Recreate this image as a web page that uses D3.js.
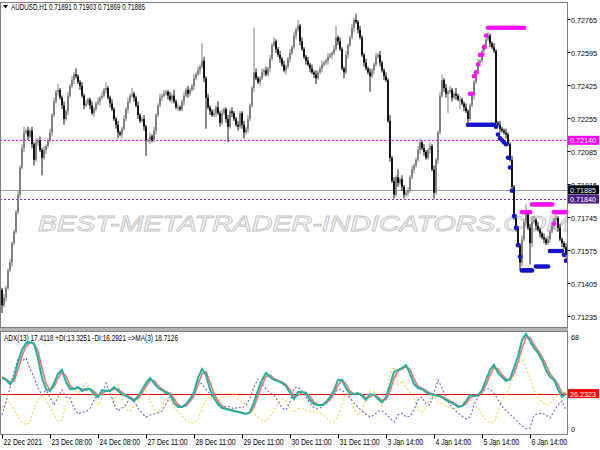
<!DOCTYPE html>
<html><head><meta charset="utf-8">
<script src="https://cdn.jsdelivr.net/npm/d3@7"></script>
<style>
body{margin:0;background:#fff}
svg{display:block}
text{font-family:"Liberation Sans",Arial,sans-serif}
</style>
</head><body><svg id="c" width="600" height="450"></svg>
<script>
// ---------------- DATA ----------------
const symbolText = "AUDUSD,H1  0.71891 0.71903 0.71869 0.71885";
const adxHeader = "ADX(13) 17.4118 +DI:13.3251 -DI:16.2921  =>MA(3) 18.7126";
const firstOpen = 0.7137;
const closes = [
0.7129,0.7133,0.7138,0.7147,0.7151,0.7161,0.7167,0.7177,0.7186,0.7200,
0.7210,0.7218,0.7219,0.7216,0.7219,0.7212,0.7204,0.7213,0.7214,0.7209,
0.7205,0.7209,0.7211,0.7214,0.7218,0.7227,0.7234,0.7239,0.7240,0.7236,
0.7232,0.7225,0.7229,0.7237,0.7242,0.7245,0.7248,0.7247,0.7244,0.7242,
0.7237,0.7232,0.7233,0.7235,0.7232,0.7228,0.7230,0.7233,0.7234,0.7236,
0.7237,0.7240,0.7241,0.7236,0.7233,0.7230,0.7225,0.7222,0.7218,0.7217,
0.7220,0.7225,0.7230,0.7234,0.7237,0.7238,0.7236,0.7232,0.7227,0.7224,
0.7225,0.7221,0.7214,0.7214,0.7216,0.7214,0.7219,0.7227,0.7232,0.7236,
0.7237,0.7238,0.7239,0.7237,0.7235,0.7237,0.7234,0.7231,0.7231,0.7230,
0.7234,0.7237,0.7240,0.7238,0.7240,0.7242,0.7246,0.7248,0.7250,0.7252,
0.7255,0.7246,0.7236,0.7231,0.7229,0.7227,0.7228,0.7231,0.7228,0.7223,
0.7228,0.7230,0.7225,0.7221,0.7229,0.7228,0.7225,0.7222,0.7221,0.7228,
0.7222,0.7218,0.7220,0.7225,0.7232,0.7241,0.7249,0.7246,0.7244,0.7246,
0.7249,0.7250,0.7248,0.7251,0.7256,0.7263,0.7265,0.7261,0.7258,0.7256,
0.7253,0.7250,0.7252,0.7256,0.7259,0.7262,0.7268,0.7271,0.7273,0.7265,
0.7261,0.7257,0.7255,0.7253,0.7251,0.7249,0.7248,0.7246,0.7249,0.7251,
0.7253,0.7254,0.7255,0.7257,0.7258,0.7259,0.7261,0.7267,0.7265,0.7261,
0.7251,0.7249,0.7258,0.7263,0.7267,0.7272,0.7276,0.7275,0.7271,0.7267,
0.7258,0.7254,0.7251,0.7249,0.7247,0.7250,0.7253,0.7257,0.7258,0.7254,
0.7250,0.7247,0.7245,0.7224,0.7205,0.7193,0.7186,0.7195,0.7192,0.7194,
0.7190,0.7186,0.7187,0.7188,0.7195,0.7199,0.7201,0.7204,0.7209,0.7213,
0.7210,0.7208,0.7205,0.7209,0.7211,0.7199,0.7187,0.7204,0.7218,0.7237,
0.7245,0.7241,0.7238,0.7239,0.7240,0.7236,0.7238,0.7237,0.7235,0.7235,
0.7233,0.7231,0.7229,0.7225,0.7232,0.7237,0.7244,0.7249,0.7254,0.7255,
0.7260,0.7262,0.7266,0.7268,0.7264,0.7262,0.7260,0.7223,0.7222,0.7220,
0.7219,0.7218,0.7217,0.7212,0.7204,0.7190,0.7174,0.7169,0.7160,0.7151,
0.7163,0.7172,0.7176,0.7169,0.7161,0.7172,0.7173,0.7170,0.7168,0.7166,
0.7164,0.7163,0.7161,0.7163,0.7167,0.7170,0.7173,0.7174,0.7169,0.7163,
0.7161,0.7159,0.7155];
// wick lengths above body top / below body bottom, in pips (0.0001)
const upperWickPips = [
1,2,1,1,2,1,1,1,2,1,2,3,1,2,1,2,1,2,1,2,
1,2,1,1,2,1,2,1,3,1,1,2,1,2,1,2,1,3,1,1,
2,1,2,1,1,2,1,1,2,1,2,1,3,1,1,2,1,1,2,1,
1,2,1,2,1,3,1,1,2,1,1,2,1,1,2,1,2,1,1,2,
1,2,1,1,2,1,3,1,2,1,1,2,1,2,1,1,2,1,2,1,
9,2,1,2,1,1,2,1,3,1,2,1,1,2,1,2,1,1,2,1,
1,2,1,2,1,1,23,2,1,1,2,1,2,1,2,1,2,1,1,2,
1,2,1,1,2,1,2,1,3,1,2,1,1,2,1,2,1,2,1,1,
2,1,1,2,1,1,2,6,1,2,1,1,2,1,1,2,1,3,1,2,
1,1,2,1,2,1,1,2,1,2,1,1,2,1,3,1,2,1,4,1,
2,1,1,2,1,2,1,1,2,2,1,2,1,1,2,1,2,1,1,2,
3,1,2,1,2,1,1,3,1,2,1,1,2,1,1,2,1,1,2,1,
1,2,1,2,1,1,2,1,1,2,1,1,2,1,1,2,1,2,1,1,
2,1,5,1,2,3,2,1,2,1,1,2,1,2,1,2,1,3,1,2,
1,1,2];
const lowerWickPips = [
4,1,2,1,1,2,1,1,1,2,1,2,1,2,1,2,3,1,2,1,
9,1,2,1,1,2,1,1,2,1,2,3,1,2,1,1,2,1,1,2,
1,2,1,1,2,1,2,1,1,2,1,1,2,1,2,1,1,2,3,1,
2,1,1,2,1,1,2,1,2,1,1,2,8,1,2,1,1,2,1,1,
2,1,1,2,1,2,1,1,2,1,1,2,1,2,1,1,2,1,1,2,
1,2,16,1,2,1,1,2,1,2,1,1,2,8,1,2,1,1,2,1,
2,3,1,2,1,1,2,1,1,2,1,2,1,1,2,1,1,2,1,2,
1,1,2,1,2,1,1,2,1,2,1,1,2,1,2,1,2,3,1,1,
2,1,1,2,1,2,1,1,2,1,1,3,1,2,1,1,2,1,2,1,
1,2,1,1,8,1,2,1,1,2,1,2,1,1,2,1,2,1,2,1,
2,2,1,2,1,1,2,1,1,2,1,2,1,1,2,1,3,1,2,1,
1,2,2,10,1,2,1,2,1,5,1,2,1,2,1,1,2,1,1,2,
1,2,1,1,2,1,1,2,1,2,1,1,2,1,1,2,1,2,1,4,
2,1,2,1,11,2,1,2,1,2,1,2,1,1,2,1,2,1,2,1,
2,1,2];

// magenta (resistance) dot levels: bar range and price
const resFrom  = [234,236,237,238,239,241,242,243,260,265,276,276];
const resTo    = [235,236,237,238,240,241,242,261,264,275,276,282];
const resPrice = [0.7238,0.7247,0.7249,0.7253,0.7258,0.7262,0.7268,0.7272,0.7177,0.7181,0.7171,0.7177];
// blue (support) dot levels
const supFrom  = [233,247,248,249,250,251,252,253,254,255,256,257,258,259,260,267,274,281,282];
const supTo    = [246,247,248,249,250,251,252,253,254,255,256,257,258,259,265,273,280,281,282];
const supPrice = [0.7222,0.7221,0.7217,0.7215,0.7214,0.7213,0.7212,0.7205,0.7200,0.7188,0.7175,0.7169,0.7160,0.7154,0.7147,0.7149,0.7157,0.7155,0.7152];

const priceTicks = [0.72765,0.72595,0.72425,0.72255,0.72085,0.71915,0.71745,0.71575,0.71405,0.71235];
const levelMagenta = 0.72140, levelBid = 0.71885, levelPurple = 0.71840;

const timeLabels = ["22 Dec 2021","23 Dec 08:00","24 Dec 08:00","27 Dec 11:00","28 Dec 11:00","29 Dec 11:00","30 Dec 11:00","31 Dec 11:00","3 Jan 14:00","4 Jan 14:00","5 Jan 14:00","6 Jan 14:00"];
const timeIdx = [0,24,48,72,96,120,144,168,192,216,240,264];

// ADX panel, one value every 2 bars
const adx = [
37.2,35.8,32.9,37.2,48.4,56.8,61.7,62.4,61.0,51.2,
37.2,29.4,28.0,33.6,40.0,42.8,34.3,29.4,29.4,30.8,
28.0,29.4,29.4,25.9,23.8,28.7,28.0,28.0,30.8,28.0,
25.9,24.5,23.1,21.0,24.5,28.7,33.6,37.2,33.6,30.1,
28.7,26.6,25.9,19.6,16.8,16.8,18.9,22.4,27.3,37.2,
43.5,39.3,29.4,23.1,18.9,16.1,15.4,14.7,14.0,13.3,
12.6,11.9,13.3,20.3,28.7,35.8,40.7,37.9,35.8,35.1,
33.6,31.5,26.6,22.4,27.3,27.3,26.6,21.7,18.9,18.2,
18.2,20.3,23.8,28.7,35.8,35.8,30.1,25.9,25.9,26.6,
24.5,21.7,25.9,25.2,22.4,20.3,23.8,32.2,41.4,42.8,
44.2,46.3,40.0,32.9,30.1,29.4,27.3,25.9,25.2,24.5,
23.8,21.7,20.3,18.9,16.8,17.5,21.0,25.2,24.5,25.2,
28.7,35.8,42.8,46.3,40.7,37.9,35.1,36.5,44.2,52.6,
63.8,68.0,63.1,58.2,54.7,49.8,42.8,37.9,35.8,29.4,
23.8,25.9];
const adxMA = [
38.0,36.5,34.3,35.0,42.8,52.6,59.2,62.0,61.7,56.1,
44.2,33.3,28.7,30.8,36.8,41.4,38.6,31.9,29.4,30.1,
29.4,28.7,29.4,27.7,24.8,26.3,28.4,28.0,29.4,29.4,
27.0,25.2,23.8,22.0,22.8,26.6,31.1,35.4,35.4,31.9,
29.4,27.7,26.3,22.8,18.2,16.8,17.9,20.7,24.8,32.2,
40.3,41.4,34.3,26.3,21.0,17.5,15.8,15.1,14.4,13.7,
13.0,12.3,12.6,16.8,24.5,32.2,38.2,39.3,36.8,35.4,
34.3,32.6,29.1,24.5,24.8,27.3,27.0,24.2,20.3,18.6,
18.2,19.2,22.0,26.3,32.2,35.8,33.0,28.0,25.9,26.3,
25.6,23.1,23.8,25.6,23.8,21.4,22.0,28.0,36.8,42.1,
43.5,45.2,43.2,36.5,31.5,29.8,28.4,26.6,25.6,24.8,
24.2,22.8,21.0,19.6,17.9,17.2,19.2,23.1,24.8,24.8,
27.0,32.2,39.3,44.5,43.5,39.3,36.5,35.8,40.3,48.4,
58.2,65.8,65.5,60.6,56.4,52.2,46.3,40.3,36.8,32.6,
26.6,26.2];
const plusDI = [
16.8,20.3,20.3,14.7,10.5,6.3,4.2,6.3,16.1,21.7,
25.9,21.7,16.8,11.2,7.0,7.7,18.2,28.7,30.1,26.6,
29.4,33.6,28.7,23.8,18.2,23.1,28.7,29.4,20.3,33.6,
23.1,14.7,14.0,17.5,20.3,28.7,28.0,21.7,14.7,12.6,
16.8,23.1,21.7,16.8,13.3,10.5,7.7,5.6,5.6,7.7,
16.1,21.7,23.8,23.1,21.0,23.1,23.8,23.8,26.6,22.4,
20.3,18.2,15.4,12.6,9.8,7.7,7.0,9.8,14.7,18.9,
22.4,21.0,15.4,13.3,15.4,16.1,14.7,14.0,12.6,13.3,
11.9,9.8,7.0,6.3,10.5,18.2,26.6,24.5,14.7,11.2,
14.7,23.1,28.0,27.3,23.1,17.5,23.8,39.3,44.9,32.2,
35.1,30.8,27.3,23.1,14.7,13.3,16.1,23.8,24.5,20.3,
18.9,17.5,16.1,14.7,18.2,20.3,21.7,22.4,19.6,16.1,
11.2,7.7,5.6,6.3,13.3,21.7,25.2,32.2,39.3,47.0,
51.2,44.2,37.2,28.7,23.1,20.3,18.2,19.6,22.4,25.2,
27.3,25.9];
const minusDI = [
11.2,20.3,30.1,41.4,50.5,49.1,51.2,43.5,37.9,30.1,
25.2,28.7,23.8,18.2,23.8,28.7,23.8,23.1,16.1,11.9,
13.3,13.3,16.1,21.7,25.2,25.2,33.6,27.3,18.9,14.0,
16.1,18.2,23.8,21.0,16.1,12.6,9.8,11.2,11.9,12.6,
14.0,18.9,23.8,21.7,18.9,16.8,17.5,21.0,27.3,35.0,
32.9,29.4,25.9,23.1,18.2,16.1,17.5,16.8,15.4,16.8,
16.1,18.2,23.1,30.8,36.5,32.9,29.4,26.6,25.2,21.0,
16.1,14.7,20.3,30.1,30.8,28.0,23.8,19.6,16.1,15.4,
16.8,20.3,21.7,25.2,29.4,28.7,25.9,23.1,19.6,16.8,
14.0,11.9,9.8,11.2,14.0,14.0,11.9,9.1,6.3,11.2,
12.6,9.8,10.5,14.7,21.7,23.8,18.9,18.2,26.6,35.8,
30.1,23.1,18.2,15.4,12.6,10.5,8.4,9.8,18.2,23.8,
27.3,29.4,29.4,26.6,21.7,17.5,14.0,11.9,9.1,6.3,
3.5,1.4,2.1,11.2,11.9,12.6,11.2,9.1,14.0,18.2,
21.0,14.7];
const adxStep = 2;          // bars per indicator sample
const adxLevel = 26.2323;
const adxMax = 68, adxMin = 0;

// ---------------- DRAW ----------------
const svg = d3.select('#c');
const W = 600, PR = 567.5;
const mainTop = 2.5, mainBot = 327.5, subTop = 331.5, subBot = 434.5;
const AX = 7.8; // axis font size

const x = d3.scaleLinear().domain([0, closes.length - 1]).range([2, 566]);
const y = d3.scaleLinear().domain([0.71235, 0.72765]).range([316, 19]);
const ys = d3.scaleLinear().domain([adxMin, adxMax]).range([431, 334]);

svg.append('rect').attr('width', W).attr('height', 450).attr('fill', '#fff');

const defs = svg.append('defs');
defs.append('clipPath').attr('id', 'cm').append('rect')
  .attr('x', 1).attr('y', mainTop + 0.5).attr('width', PR - 1.5).attr('height', mainBot - mainTop - 1);
defs.append('clipPath').attr('id', 'cs').append('rect')
  .attr('x', 1).attr('y', subTop + 0.5).attr('width', PR - 1.5).attr('height', subBot - subTop - 1);

function fitTo(sel, w) {
  return sel.attr('textLength', w).attr('lengthAdjust', 'spacingAndGlyphs');
}
function fit(sel, k) {
  sel.each(function () {
    const w = this.getComputedTextLength();
    d3.select(this).attr('textLength', w * k).attr('lengthAdjust', 'spacingAndGlyphs');
  });
  return sel;
}

// ---- main panel ----
const gm = svg.append('g').attr('clip-path', 'url(#cm)');

// watermark
gm.append('text').attr('x', 38).attr('y', 231)
  .attr('font-family', '"DejaVu Sans", sans-serif').attr('font-size', 22)
  .attr('font-style', 'italic')
  .attr('fill', 'none').attr('stroke', '#c4c4c4').attr('stroke-width', 0.9)
  .attr('textLength', 532).attr('lengthAdjust', 'spacingAndGlyphs')
  .text('BEST-METATRADER-INDICATORS.COM');

// level lines
const hl = (v, col, dash) => {
  const yy = Math.round(y(v)) + 0.5;
  const l = gm.append('line').attr('x1', 0).attr('x2', PR).attr('y1', yy).attr('y2', yy).attr('stroke', col);
  if (dash) l.attr('stroke-dasharray', dash);
};
hl(levelMagenta, '#ff00ff', '2,2');
hl(levelBid, '#a0a0a0', null);
hl(levelPurple, '#7a35c0', '2,2');

// candles
const bars = closes.map((c, i) => {
  const o = i === 0 ? firstOpen : closes[i - 1];
  const hi = Math.max(o, c) + upperWickPips[i] * 0.0001;
  const lo = Math.min(o, c) - lowerWickPips[i] * 0.0001;
  return { i, o, c, hi, lo, up: c >= o };
});
const upCol = '#808080', dnCol = '#141414';
const gc = gm.append('g');
gc.selectAll('line.w').data(bars).join('line').attr('class', 'w')
  .attr('x1', d => x(d.i)).attr('x2', d => x(d.i))
  .attr('y1', d => y(d.hi)).attr('y2', d => y(d.lo))
  .attr('stroke', d => d.up ? upCol : dnCol).attr('stroke-width', 1);
gc.selectAll('rect.b').data(bars).join('rect').attr('class', 'b')
  .attr('x', d => x(d.i) - 1).attr('width', 2)
  .attr('y', d => y(Math.max(d.o, d.c)))
  .attr('height', d => Math.max(1, y(Math.min(d.o, d.c)) - y(Math.max(d.o, d.c))))
  .attr('fill', d => d.up ? upCol : dnCol);

// signal dots
function expand(from, to, price) {
  const out = [];
  from.forEach((f, k) => { for (let i = f; i <= to[k]; i++) out.push({ i, p: price[k] }); });
  return out;
}
gm.append('g').selectAll('circle').data(expand(supFrom, supTo, supPrice)).join('circle')
  .attr('cx', d => x(d.i)).attr('cy', d => y(d.p)).attr('r', 2.3).attr('fill', '#1414c8');
gm.append('g').selectAll('circle').data(expand(resFrom, resTo, resPrice)).join('circle')
  .attr('cx', d => x(d.i)).attr('cy', d => y(d.p)).attr('r', 2.3).attr('fill', '#ff10ff');

// ---- sub panel ----
const gs = svg.append('g').attr('clip-path', 'url(#cs)');
const xi = (d, k) => x(k * adxStep);
{
  const yy = Math.round(ys(adxLevel)) + 0.5;
  gs.append('line').attr('x1', 0).attr('x2', PR).attr('y1', yy).attr('y2', yy).attr('stroke', '#ff0000');
}
const line = d3.line().x(xi).y(d => ys(d));
gs.append('path').datum(plusDI).attr('d', line).attr('fill', 'none')
  .attr('stroke', '#f7d44a').attr('stroke-width', 1.1).attr('stroke-dasharray', '2,2');
gs.append('path').datum(minusDI).attr('d', line).attr('fill', 'none')
  .attr('stroke', '#6b62cc').attr('stroke-width', 1.1).attr('stroke-dasharray', '2,2');
gs.append('path').datum(adxMA).attr('d', line).attr('fill', 'none')
  .attr('stroke', '#f47272').attr('stroke-width', 1.6);
gs.append('path').datum(adx).attr('d', line).attr('fill', 'none')
  .attr('stroke', '#22b0a0').attr('stroke-width', 2);

// ---- frames ----
const frame = svg.append('g').attr('fill', 'none').attr('stroke', '#808080');
frame.append('rect').attr('x', 0.5).attr('y', mainTop).attr('width', PR - 0.5).attr('height', mainBot - mainTop);
svg.append('rect').attr('x', 0).attr('y', 328).attr('width', PR + 0.5).attr('height', 3).attr('fill', '#b4b4b4');
frame.append('rect').attr('x', 0.5).attr('y', subTop).attr('width', PR - 0.5).attr('height', subBot - subTop);

// ---- texts ----
svg.append('path').attr('d', 'M3,5 L8,5 L5.5,8.5 Z').attr('fill', '#000');
fitTo(svg.append('text').attr('x', 11).attr('y', 10).attr('font-size', 8.5).attr('fill', '#000').text(symbolText), 134);
fitTo(svg.append('text').attr('x', 4).attr('y', 341).attr('font-size', 8.5).attr('fill', '#000').text(adxHeader), 174);

// price axis
const ga = svg.append('g');
priceTicks.forEach(p => {
  const yy = Math.round(y(p)) + 0.5;
  ga.append('line').attr('x1', PR).attr('x2', PR + 3).attr('y1', yy).attr('y2', yy).attr('stroke', '#000');
  fitTo(ga.append('text').attr('x', 571).attr('y', yy + 3).attr('font-size', AX).attr('fill', '#000').text(p.toFixed(5)), 26);
});
function tag(cy, txt, bg) {
  ga.append('rect').attr('x', 568).attr('y', cy - 4.5).attr('width', 31).attr('height', 9).attr('fill', bg);
  fitTo(ga.append('text').attr('x', 570).attr('y', cy + 3).attr('font-size', AX).attr('fill', '#fff').text(txt), 26);
}
tag(y(levelMagenta), levelMagenta.toFixed(5), '#ff00ff');
tag(y(levelBid), levelBid.toFixed(5), '#000');
tag(y(levelPurple) + 0.5, levelPurple.toFixed(5), '#4d1f86');

// ADX axis
fitTo(svg.append('text').attr('x', 571).attr('y', 340).attr('font-size', AX).text(String(adxMax)), 8);
fitTo(svg.append('text').attr('x', 571).attr('y', 432).attr('font-size', AX).text(String(adxMin)), 4);
{
  const ly = ys(adxLevel);
  svg.append('rect').attr('x', 568).attr('y', ly - 4.5).attr('width', 31).attr('height', 9).attr('fill', '#ff0000');
  fitTo(svg.append('text').attr('x', 570).attr('y', ly + 3).attr('font-size', AX).attr('fill', '#fff').text(adxLevel.toFixed(4)), 26);
}

// time axis
timeIdx.forEach((b, k) => {
  const xx = Math.round(x(b)) + 0.5;
  svg.append('line').attr('x1', xx).attr('x2', xx).attr('y1', subBot).attr('y2', subBot + 4).attr('stroke', '#000');
  fit(svg.append('text').attr('x', xx + 1).attr('y', 445).attr('font-size', 8.5).attr('fill', '#000').text(timeLabels[k]), 0.8);
});
</script></body></html>
